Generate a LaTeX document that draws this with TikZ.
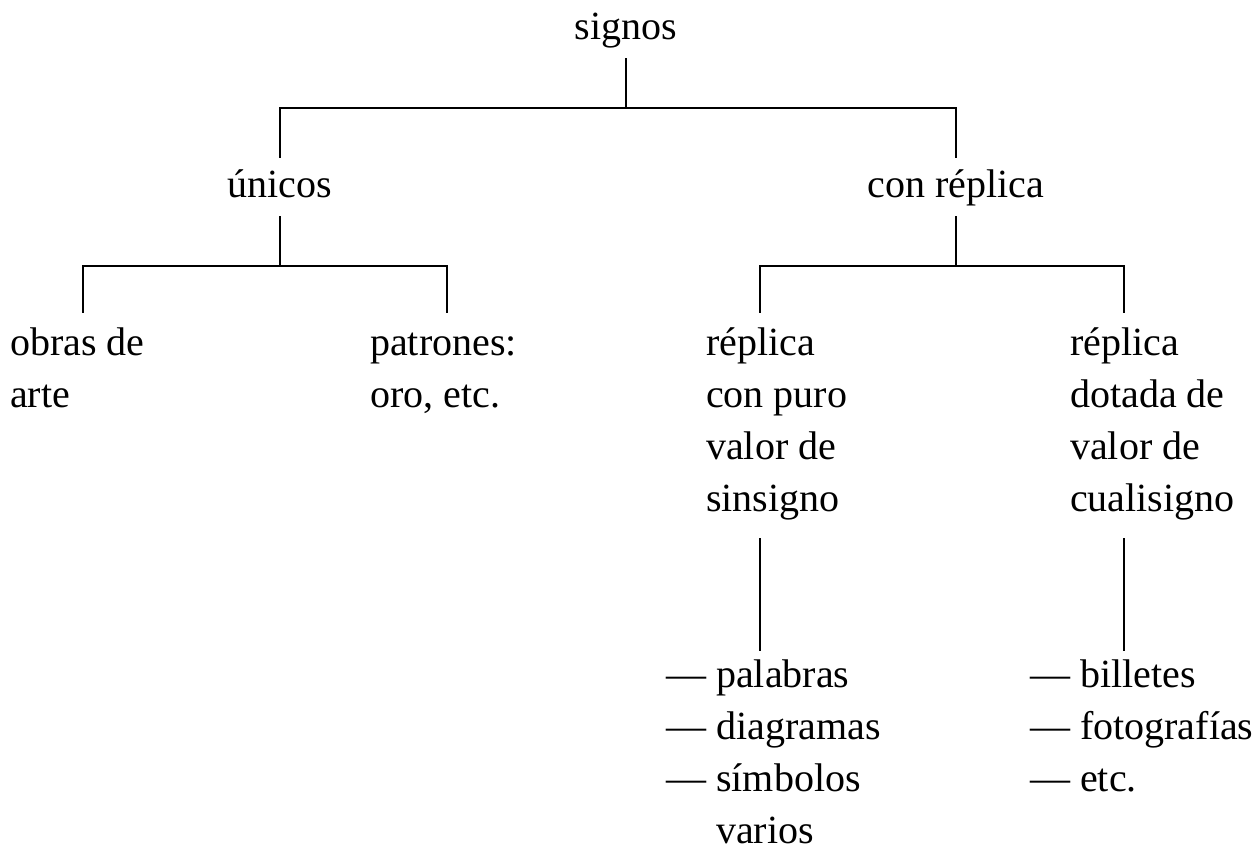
\documentclass[tikz,border=0pt]{standalone}
\usepackage{fontspec}
\setmainfont{Liberation Serif}
\usepackage{tikz}

\begin{document}
\begin{tikzpicture}[
  x=1pt, y=-1pt,
  every node/.style={font=\fontsize{40}{52}\selectfont},
  head/.style={inner sep=0pt, anchor=base, text height=40pt, text depth=18pt},
  leaf/.style={inner sep=0pt, anchor=north west, align=left},
  branch/.style={line width=1.6pt}
]
\useasboundingbox (0,0) rectangle (1255,850);

% Root
\node[head] (signos) at (626,40) {signos};

% Second level
\node[head] (unicos) at (280,198) {únicos};
\node[head] (conrep) at (956,198) {con réplica};

% Branch points
\coordinate (obrasTop) at (83,313);
\coordinate (patronesTop) at (447,313);
\coordinate (puroTop) at (760,313);
\coordinate (dotadaTop) at (1124,313);

% Leaves
\node[leaf] (obras) at (10,319) {\strut obras de\\arte};
\node[leaf] (patrones) at (370,319) {\strut patrones:\\oro, etc.};
\node[leaf] (puro) at (706,319) {\strut réplica\\con puro\\valor de\\sinsigno};
\node[leaf] (dotada) at (1070,319) {\strut réplica\\dotada de\\valor de\\cualisigno};

% Examples
\coordinate (puroLow) at (760,538);
\coordinate (dotadaLow) at (1124,538);
\node[leaf] (ejemplosA) at (666,651) {\strut — palabras\\— diagramas\\— símbolos\\\phantom{— }varios};
\node[leaf] (ejemplosB) at (1030,651) {\strut — billetes\\— fotografías\\— etc.};

% Connectors
\draw[branch] (signos.south) -- ++(0,50) -| (unicos.north);
\draw[branch] (signos.south) -- ++(0,50) -| (conrep.north);
\draw[branch] (unicos.south) -- ++(0,50) -| (obrasTop);
\draw[branch] (unicos.south) -- ++(0,50) -| (patronesTop);
\draw[branch] (conrep.south) -- ++(0,50) -| (puroTop);
\draw[branch] (conrep.south) -- ++(0,50) -| (dotadaTop);
\draw[branch] (puroLow) -- (puroLow |- ejemplosA.north);
\draw[branch] (dotadaLow) -- (dotadaLow |- ejemplosB.north);

\end{tikzpicture}
\end{document}
